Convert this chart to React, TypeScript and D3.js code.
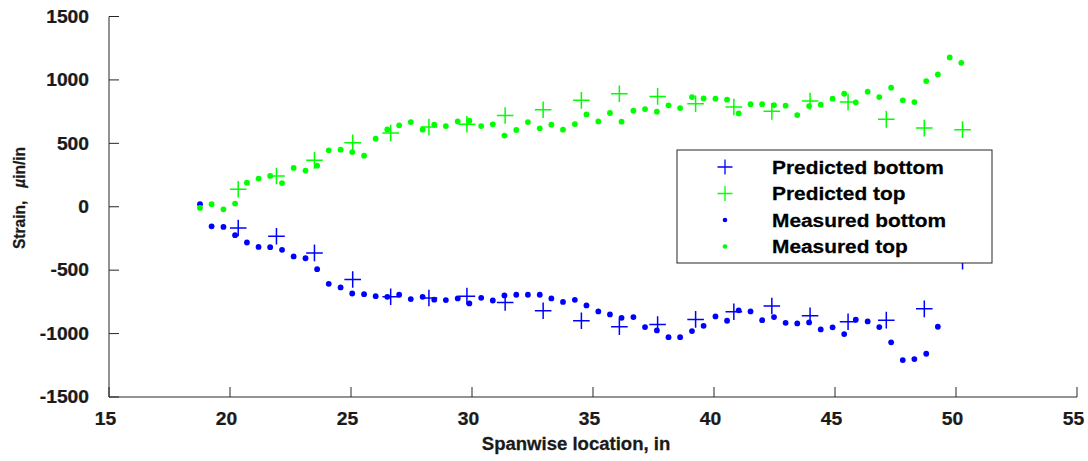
import React from "react";
import * as d3 from "d3";

// Spanwise gauge stations (in) and measured strains (µin/in)
const measuredX = [
  18.76, 19.24, 19.73, 20.21, 20.70, 21.18, 21.66, 22.15, 22.63, 23.12,
  23.60, 24.08, 24.57, 25.05, 25.54, 26.02, 26.50, 26.99, 27.47, 27.96,
  28.44, 28.92, 29.41, 29.89, 30.38, 30.86, 31.34, 31.83, 32.31, 32.80,
  33.28, 33.76, 34.25, 34.73, 35.22, 35.70, 36.18, 36.67, 37.15, 37.64,
  38.12, 38.60, 39.09, 39.57, 40.06, 40.54, 41.02, 41.51, 41.99, 42.48,
  42.96, 43.44, 43.93, 44.41, 44.90, 45.38, 45.86, 46.35, 46.83, 47.32,
  47.80, 48.28, 48.77, 49.25, 49.74, 50.22,
];

const measuredTop = [
  -9, 20, -20, 25, 190, 222, 243, 187, 306, 285,
  324, 445, 450, 431, 403, 537, 610, 642, 668, 608,
  648, 636, 673, 679, 636, 650, 561, 605, 668, 618,
  647, 608, 652, 728, 673, 739, 671, 757, 770, 750,
  800, 778, 865, 854, 852, 844, 736, 809, 809, 802,
  797, 723, 794, 805, 852, 891, 823, 907, 865, 939,
  839, 825, 991, 1043, 1177, 1135,
];

const measuredBottom = [
  20, -154, -159, -224, -282, -317, -319, -340, -392, -406,
  -492, -608, -636, -684, -689, -705, -710, -694, -728, -710,
  -733, -736, -723, -762, -718, -739, -699, -694, -694, -694,
  -723, -750, -734, -778, -825, -849, -876, -870, -949, -975,
  -1028, -1028, -980, -939, -865, -899, -817, -825, -894, -870,
  -915, -920, -912, -967, -951, -1004, -891, -904, -949, -1069,
  -1209, -1201, -1159, -946,
];

// Predicted strains at the analysis stations
const predictedX = [
  20.34, 21.92, 23.49, 25.07, 26.64, 28.22, 29.79, 31.37, 32.94, 34.52,
  36.09, 37.67, 39.24, 40.82, 42.39, 43.97, 45.54, 47.12, 48.69, 50.27,
];
const predictedTop = [
  138, 243, 366, 505, 581, 628, 650, 720, 765, 839,
  891, 870, 812, 786, 752, 833, 825, 689, 620, 608,
];
const predictedBottom = [
  -167, -232, -364, -573, -710, -719, -705, -754, -820, -899,
  -946, -928, -888, -828, -783, -860, -907, -894, -805, -430,
];

const xTicks = [15, 20, 25, 30, 35, 40, 45, 50, 55];
const yTicks = [-1500, -1000, -500, 0, 500, 1000, 1500];

const legendItems = [
  { label: "Predicted bottom", kind: "cross", color: "#0000ff" },
  { label: "Predicted top", kind: "cross", color: "#00ff00" },
  { label: "Measured bottom", kind: "dot", color: "#0000ff" },
  { label: "Measured top", kind: "dot", color: "#00ff00" },
];

const BLUE = "#0000ff";
const GREEN = "#00ff00";
const INK = "#262626";
const TEXT = "#1a1a1a";
const FONT = "'Liberation Sans', Arial, Helvetica, sans-serif";

export default function App() {
  const width = 1088;
  const height = 461;
  const left = 109;
  const right = 1077;
  const top = 16.5;
  const bottom = 397;

  const x = d3.scaleLinear().domain([15, 55]).range([left, right]);
  const y = d3.scaleLinear().domain([-1500, 1500]).range([bottom, top]);

  const crossPath = (cx: number, cy: number, h: number) =>
    `M${cx - h},${cy}H${cx + h}M${cx},${cy - h}V${cy + h}`;

  const tickLen = 10;
  const sx = 1.1; // horizontal stretch of the glyphs

  const legend = { x: 677, y: 150, w: 315, h: 113 };
  const rowY = [167, 193.5, 220, 246.5];

  return (
    <svg
      width={width}
      height={height}
      style={{ position: "absolute", left: 0, top: 0, background: "#fff" }}
      fontFamily={FONT}
      fontWeight="bold"
    >
      <rect width={width} height={height} fill="#fff" />

      {/* axes */}
      <g stroke={INK} strokeWidth={1} fill="none">
        <line x1={left} x2={left} y1={top} y2={bottom} />
        <line x1={left} x2={right} y1={bottom} y2={bottom} />
        {yTicks.map((t) => (
          <line key={"yt" + t} x1={left} x2={left + tickLen} y1={y(t)} y2={y(t)} />
        ))}
        {xTicks.map((t) => (
          <line key={"xt" + t} x1={x(t)} x2={x(t)} y1={bottom} y2={bottom - tickLen} />
        ))}
      </g>

      {/* tick labels */}
      <g fill={TEXT} stroke={TEXT} strokeWidth={0.25} fontSize={17.5}>
        {yTicks.map((t) => (
          <text
            key={"yl" + t}
            textAnchor="end"
            transform={`translate(89,${y(t) + 6.3}) scale(${sx},1)`}
          >
            {t}
          </text>
        ))}
        {xTicks.map((t) => (
          <text
            key={"xl" + t}
            textAnchor="middle"
            transform={`translate(${x(t) - 3.5},425) scale(${sx},1)`}
          >
            {t}
          </text>
        ))}
      </g>

      {/* axis titles */}
      <text
        fill={TEXT}
        stroke={TEXT}
        strokeWidth={0.25}
        fontSize={17.5}
        textAnchor="middle"
        transform={`translate(576,450) scale(1.06,1)`}
      >
        Spanwise location, in
      </text>
      <text
        fill={TEXT}
        stroke={TEXT}
        strokeWidth={0.25}
        fontSize={15.5}
        textAnchor="middle"
        transform={`translate(25,198) rotate(-90) scale(1,${sx})`}
      >
        Strain,
        <tspan dx={13} fontStyle="italic">µ</tspan>
        <tspan>in/in</tspan>
      </text>

      {/* predicted strains */}
      <g fill="none" strokeWidth={1.5}>
        {predictedX.map((px, i) => (
          <path key={"pb" + i} d={crossPath(x(px), y(predictedBottom[i]), 8.3)} stroke={BLUE} />
        ))}
        {predictedX.map((px, i) => (
          <path key={"pt" + i} d={crossPath(x(px), y(predictedTop[i]), 8.3)} stroke={GREEN} />
        ))}
      </g>

      {/* measured strains */}
      <g>
        {measuredBottom.map((v, i) => (
          <circle key={"mb" + i} cx={x(measuredX[i])} cy={y(v)} r={2.9} fill={BLUE} />
        ))}
        {measuredTop.map((v, i) => (
          <circle key={"mt" + i} cx={x(measuredX[i])} cy={y(v)} r={2.9} fill={GREEN} />
        ))}
      </g>

      {/* legend */}
      <g>
        <rect
          x={legend.x}
          y={legend.y}
          width={legend.w}
          height={legend.h}
          fill="#fff"
          stroke={INK}
          strokeWidth={1}
        />
        {legendItems.map((item, i) => (
          <g key={item.label}>
            {item.kind === "cross" ? (
              <path
                d={crossPath(725, rowY[i], 7.5)}
                stroke={item.color}
                strokeWidth={1.3}
                fill="none"
              />
            ) : (
              <circle cx={725} cy={rowY[i]} r={2.3} fill={item.color} />
            )}
            <text
              fill="#000"
              stroke="#000"
              strokeWidth={0.25}
              fontSize={18.5}
              transform={`translate(772,${rowY[i] + 6.8}) scale(1.13,1)`}
            >
              {item.label}
            </text>
          </g>
        ))}
      </g>
    </svg>
  );
}
